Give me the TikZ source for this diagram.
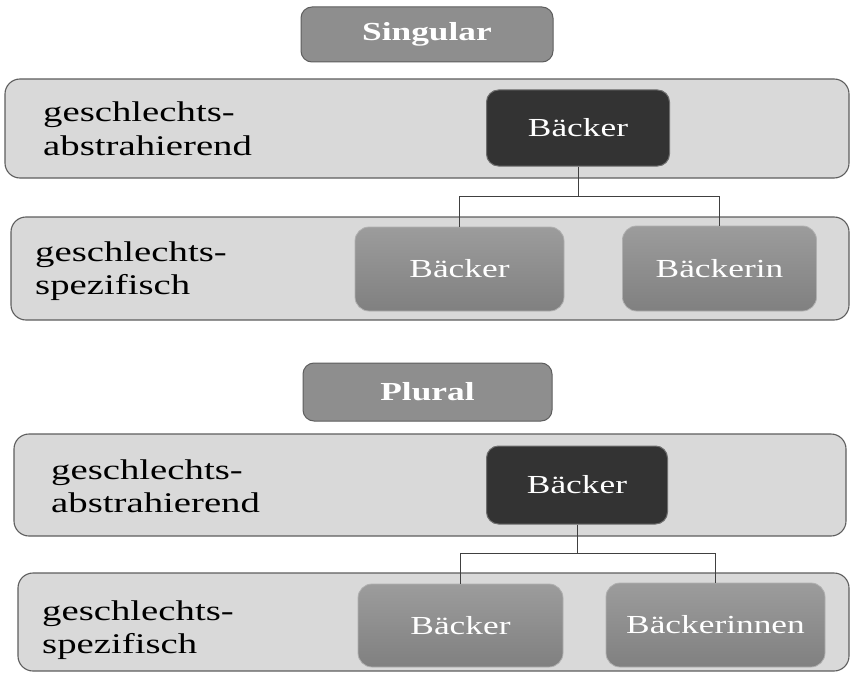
\documentclass[tikz,border=0pt]{standalone}
\usepackage{fontspec}
\setmainfont[FakeStretch=1.36]{Liberation Serif}
\definecolor{bandfill}{HTML}{D9D9D9}
\definecolor{banddraw}{HTML}{5E5E5E}
\definecolor{darkfill}{HTML}{333333}
\definecolor{darkdraw}{HTML}{6E6E6E}
\definecolor{titlefill}{HTML}{8E8E8E}
\definecolor{childtop}{HTML}{9C9C9C}
\definecolor{childbot}{HTML}{808080}
\definecolor{linecol}{HTML}{404040}
\tikzset{
  band/.style={draw=banddraw, fill=bandfill, line width=1.1pt, rounded corners=15pt, inner sep=0pt},
  titlebox/.style={draw=banddraw, fill=titlefill, line width=1pt, rounded corners=11pt, inner sep=0pt,
    text=white, font=\bfseries\fontsize{26}{30}\selectfont},
  darkbox/.style={draw=darkdraw, fill=darkfill, line width=1pt, rounded corners=12pt, inner sep=0pt,
    text=white, font=\fontsize{26}{30}\selectfont},
  childbox/.style={draw=childtop!80!white, top color=childtop, bottom color=childbot, line width=0.8pt,
    rounded corners=14pt, inner sep=0pt, text=white, font=\fontsize{26}{30}\selectfont},
  bandlabel/.style={anchor=base west, align=left, inner sep=0pt, text=black,
    font=\fontsize{28.5}{33}\selectfont},
  conn/.style={draw=linecol, line width=0.9pt}
}
\begin{document}
\begin{tikzpicture}[x=1pt, y=-1pt]
\useasboundingbox (0,0) rectangle (851,674);
\fill[white] (0,0) rectangle (851,674);

% ---------- Singular ----------
\node[titlebox, minimum width=252pt, minimum height=55pt] (t1) at (427,34.5) {Singular};
\node[band, minimum width=844pt, minimum height=99pt] (b1) at (427,128.5) {};
\node[band, minimum width=838pt, minimum height=103pt] (b2) at (430,268.5) {};
\node[bandlabel] (l1) at (43,155) {geschlechts-\\abstrahierend};
\node[bandlabel] (l2) at (35,294) {geschlechts-\\spezifisch};
\node[darkbox, minimum width=183pt, minimum height=76pt] (d1) at (578,128) {Bäcker};
\node[childbox, minimum width=209pt, minimum height=84pt] (c1) at (459.5,269) {Bäcker};
\node[childbox, minimum width=194pt, minimum height=85pt] (c2) at (719.5,268.5) {Bäckerin};
\draw[conn] (d1.south) -- ++(0,30) coordinate (j1);
\draw[conn] (c1.north) |- (j1) -| (c2.north);

% ---------- Plural ----------
\node[titlebox, minimum width=249pt, minimum height=58pt] (t2) at (427.5,392) {Plural};
\node[band, minimum width=832pt, minimum height=102pt] (b3) at (430,485) {};
\node[band, minimum width=831pt, minimum height=98pt] (b4) at (433.5,622) {};
\node[bandlabel] (l3) at (51,512) {geschlechts-\\abstrahierend};
\node[bandlabel] (l4) at (42,653) {geschlechts-\\spezifisch};
\node[darkbox, minimum width=181pt, minimum height=78pt] (d2) at (577,485) {Bäcker};
\node[childbox, minimum width=205pt, minimum height=83pt] (c3) at (460.5,625.5) {Bäcker};
\node[childbox, minimum width=219pt, minimum height=84pt] (c4) at (715.5,625) {Bäckerinnen};
\draw[conn] (d2.south) -- ++(0,29) coordinate (j2);
\draw[conn] (c3.north) |- (j2) -| (c4.north);
\end{tikzpicture}
\end{document}
